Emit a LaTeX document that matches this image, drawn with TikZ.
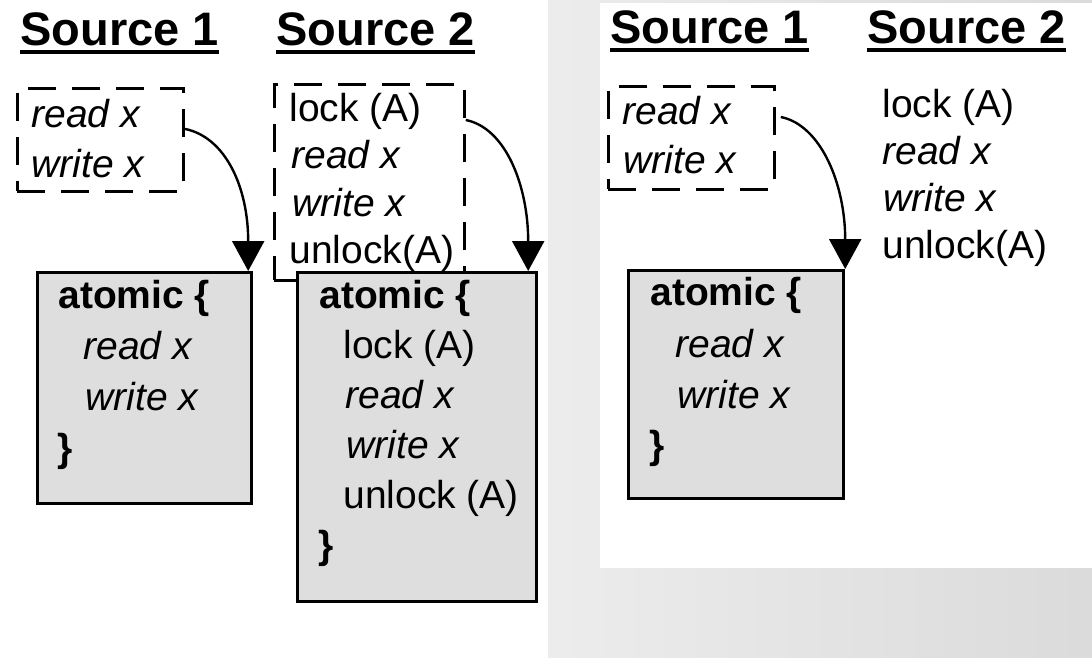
\documentclass[tikz,border=0pt]{standalone}
\usepackage{fontspec}
\setmainfont{Liberation Sans}
\usetikzlibrary{arrows.meta}
\definecolor{colatom}{HTML}{DEDEDE}
\definecolor{colbglight}{HTML}{F5F5F5}
\definecolor{colbgdark}{HTML}{D2D2D2}
\tikzset{
    heading/.style={font=\fontsize{23.5}{28}\selectfont\bfseries,
        anchor=base west, inner sep=0pt},
    plain/.style={font=\fontsize{19.5}{24}\selectfont,
        anchor=base west, inner sep=0pt},
    slanted/.style={plain, font=\fontsize{19.5}{24}\selectfont\itshape},
    keyword/.style={plain, font=\fontsize{19.5}{24}\selectfont\bfseries},
    head rule/.style={line width=1.8pt},
    src box/.style={rectangle, draw=black, line width=1.4pt,
        dash pattern=on 14pt off 8pt, anchor=north west, inner sep=0pt},
    atom box/.style={rectangle, draw=black, line width=1.6pt,
        fill=colatom, anchor=north west, inner sep=0pt},
    merge edge/.style={-{Triangle[length=15pt, width=16pt]},
        line width=1.2pt},
    panel/.style={fill=white, draw=none},
}

\begin{document}
\begin{tikzpicture}[x=0.5pt, y=-0.5pt]

\useasboundingbox (0,0) rectangle (1092,658);

% ===== BACKGROUND =====
\begin{scope}
    \clip (548,0) rectangle (1092,658);
    \shade[left color=colbglight, right color=colbgdark] (276,0) rectangle (1364,658);
\end{scope}
\fill[panel] (0,0) rectangle (548,658);
\fill[panel] (600,3) rectangle (1092,568);

% ===== LEFT PANEL: BOXES =====
\node[src box, minimum width=83pt, minimum height=51.5pt] (lsrcA) at (16,87) {};
\node[src box, minimum width=95pt, minimum height=98pt] (lsrcB) at (273,83) {};
\node[atom box, minimum width=107pt, minimum height=115.5pt] (latomA) at (36,271) {};
\node[atom box, minimum width=119.5pt, minimum height=164.5pt] (latomB) at (296,271) {};

% ===== LEFT PANEL: TEXT =====
\node[heading] (lheadA) at (20,46) {Source 1};
\node[heading] (lheadB) at (276,46) {Source 2};
\node[slanted] (lsrcAread) at (31,127) {read x};
\node[slanted] (lsrcAwrite) at (31,177) {write x};
\node[plain] (lsrcBlock) at (289,122) {lock (A)};
\node[slanted] (lsrcBread) at (291,169) {read x};
\node[slanted] (lsrcBwrite) at (292,216) {write x};
\node[plain] (lsrcBunlock) at (289,263) {unlock(A)};
\node[keyword] (latomAopen) at (58,308) {atomic \{};
\node[slanted] (latomAread) at (83,359) {read x};
\node[slanted] (latomAwrite) at (85,410) {write x};
\node[keyword] (latomAclose) at (57,461) {\}};
\node[keyword] (latomBopen) at (319,308) {atomic \{};
\node[plain] (latomBlock) at (343,358) {lock (A)};
\node[slanted] (latomBread) at (345,408) {read x};
\node[slanted] (latomBwrite) at (346,458) {write x};
\node[plain] (latomBunlock) at (343,508) {unlock (A)};
\node[keyword] (latomBclose) at (318,558) {\}};

% ===== RIGHT PANEL: BOXES =====
\node[src box, minimum width=83pt, minimum height=51.5pt] (rsrcA) at (607,85) {};
\node[atom box, minimum width=107.5pt, minimum height=114pt] (ratomA) at (627,269) {};

% ===== RIGHT PANEL: TEXT =====
\node[heading] (rheadA) at (610,44) {Source 1};
\node[heading] (rheadB) at (867,44) {Source 2};
\node[slanted] (rsrcAread) at (622,125) {read x};
\node[slanted] (rsrcAwrite) at (623,173) {write x};
\node[plain] (rsrcBlock) at (882,118) {lock (A)};
\node[slanted] (rsrcBread) at (882,164) {read x};
\node[slanted] (rsrcBwrite) at (883,211) {write x};
\node[plain] (rsrcBunlock) at (882,258) {unlock(A)};
\node[keyword] (ratomAopen) at (650,305) {atomic \{};
\node[slanted] (ratomAread) at (675,357) {read x};
\node[slanted] (ratomAwrite) at (677,408) {write x};
\node[keyword] (ratomAclose) at (649,458) {\}};

% ===== UNDERLINES =====
\foreach \h in {lheadA, lheadB, rheadA, rheadB}
    \draw[head rule] ([yshift=-3pt]\h.base west) -- ([yshift=-3pt]\h.base east);

% ===== EDGES =====
\draw[merge edge] ([yshift=5.5pt]lsrcA.east)
    .. controls +(40,8) and +(0,-85) .. ([xshift=-2.5pt]latomA.north east);
\draw[merge edge] ([yshift=-18.5pt]lsrcB.north east)
    .. controls +(40,8) and +(0,-85) .. ([xshift=-5pt]latomB.north east);
\draw[merge edge] ([xshift=2.5pt, yshift=-16pt]rsrcA.north east)
    .. controls +(40,8) and +(0,-85) .. (ratomA.north east);

\end{tikzpicture}
\end{document}
